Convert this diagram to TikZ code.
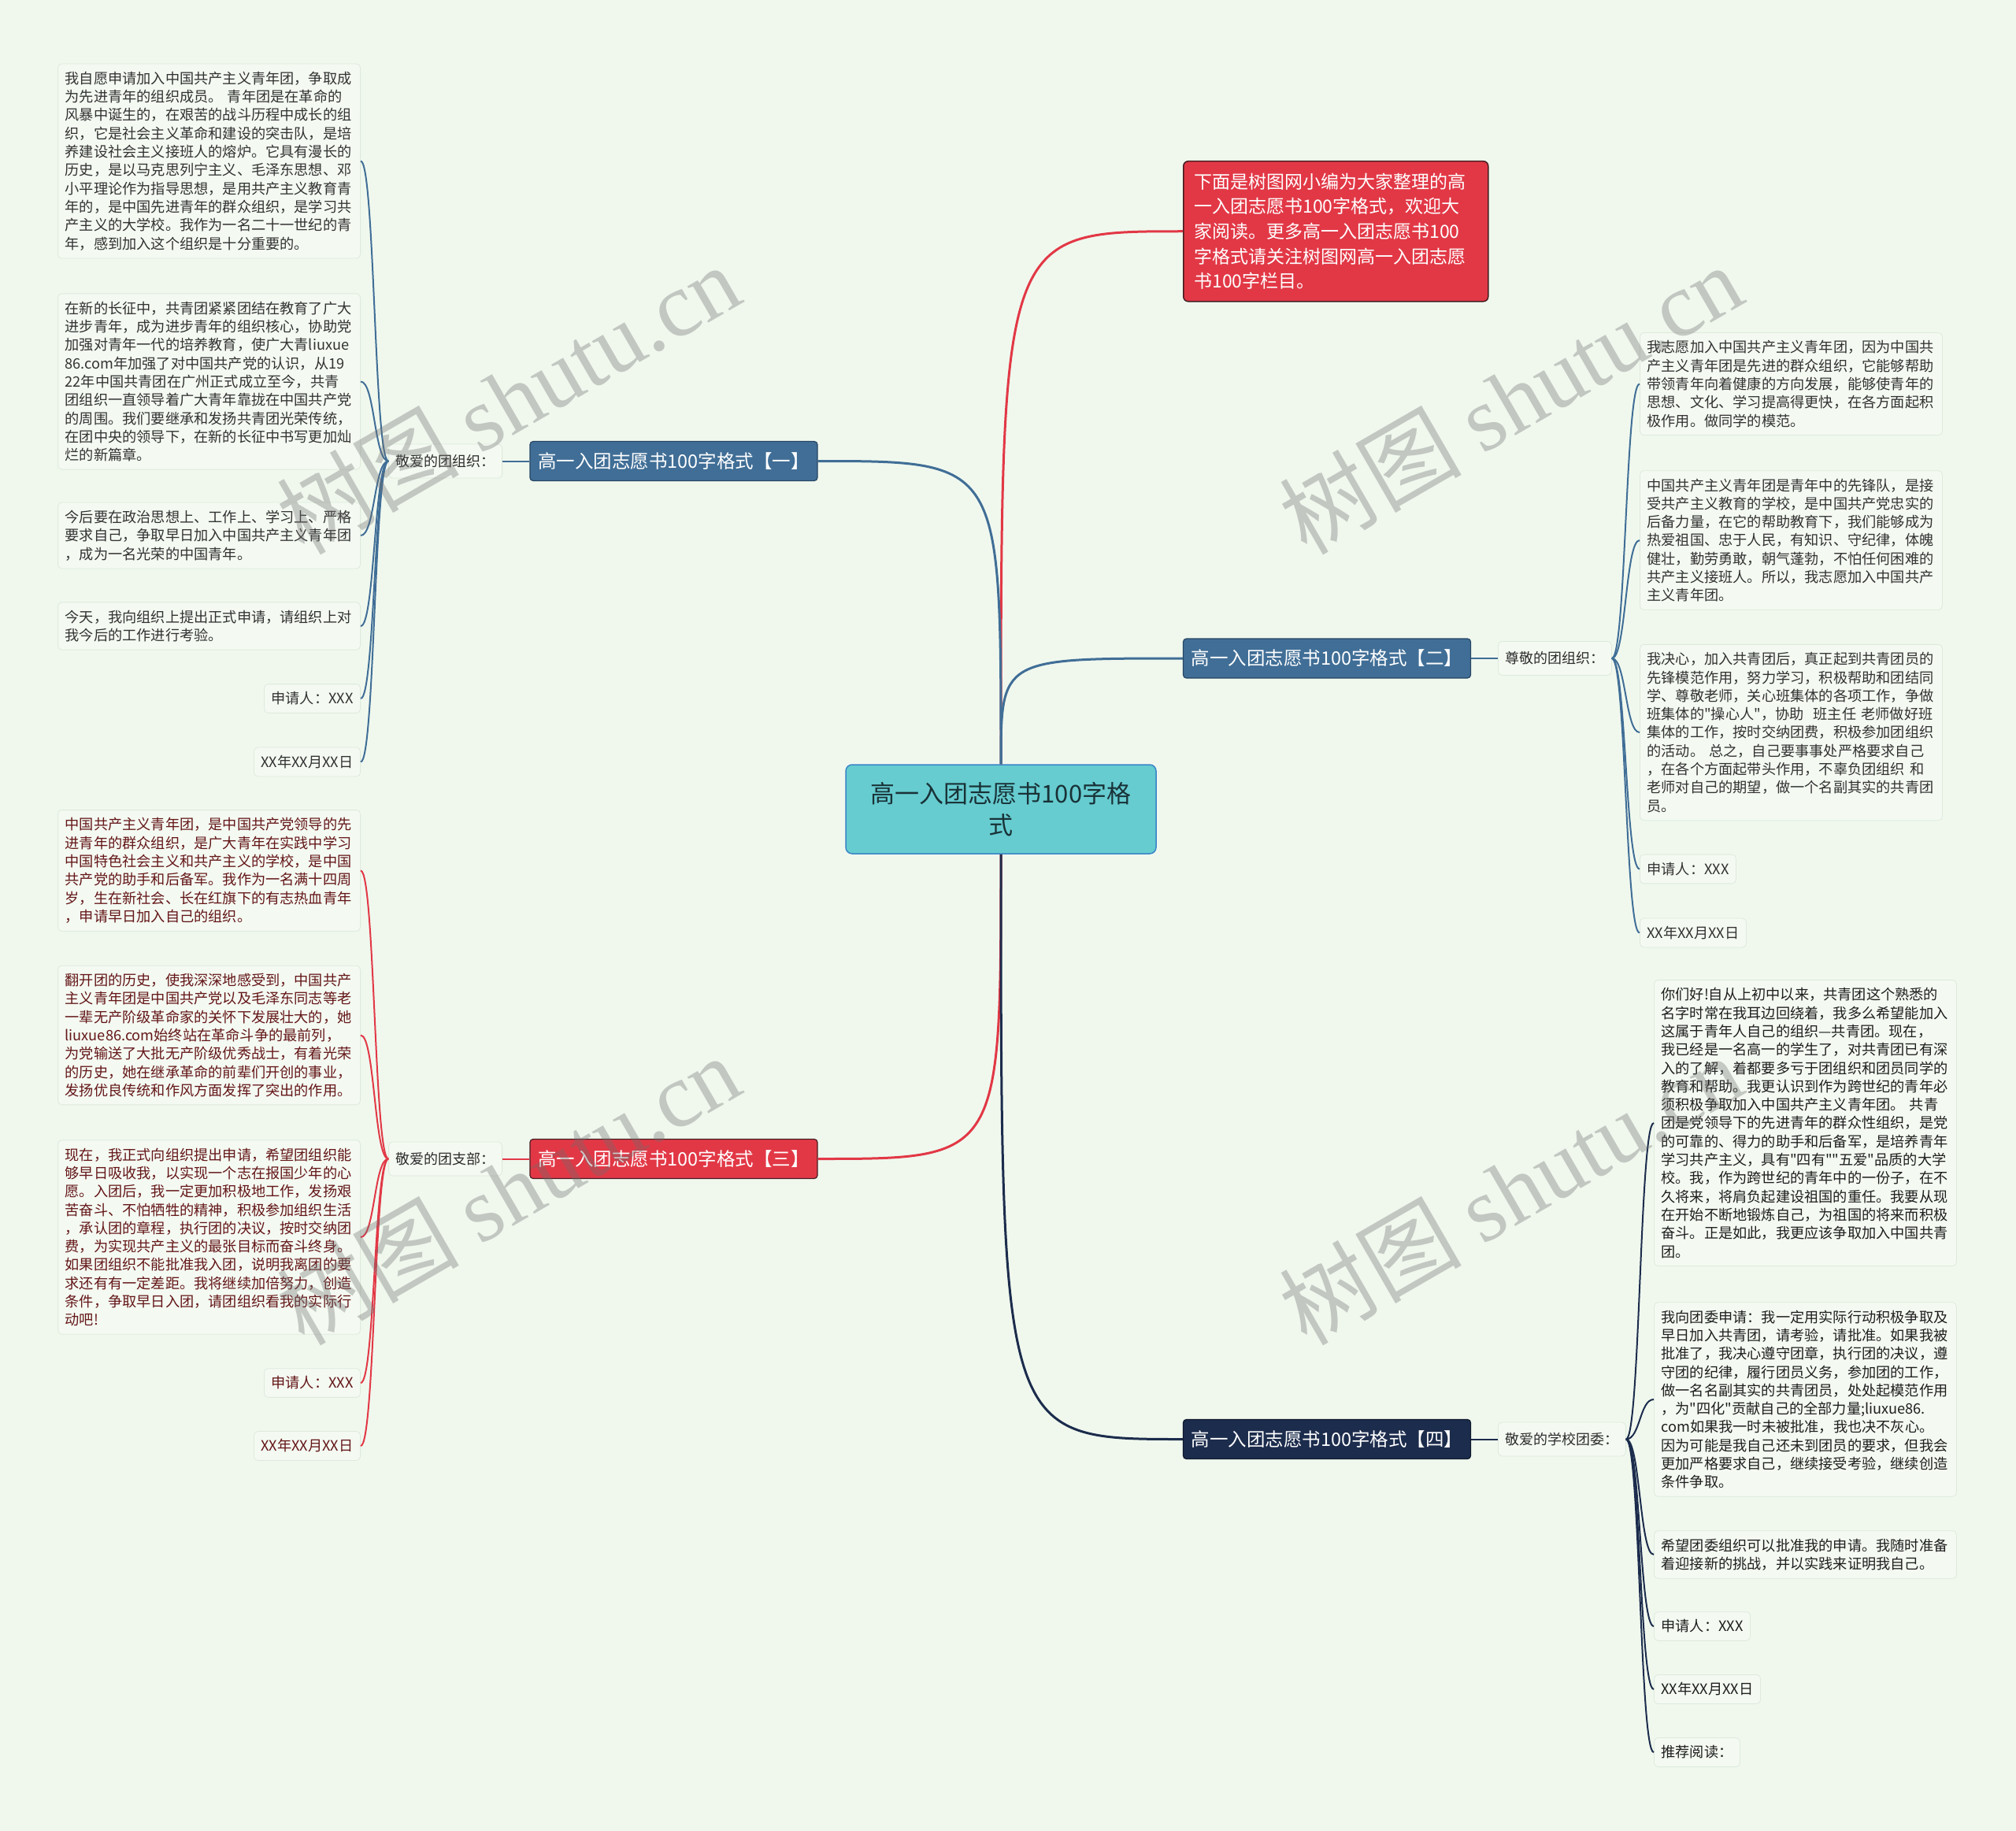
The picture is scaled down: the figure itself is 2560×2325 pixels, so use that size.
\documentclass[tikz,border=0pt]{standalone}
\usepackage{fontspec}
\setmainfont{Noto Sans CJK SC}[Ligatures=TeXOff]
\newfontfamily\wmserif{Liberation Serif}[Ligatures=TeXOff]
\usetikzlibrary{calc}
\definecolor{bg}{RGB}{240,248,238}
\definecolor{boxfill}{RGB}{244,250,242}
\definecolor{boxline}{RGB}{222,233,220}
\definecolor{cblue}{RGB}{64,110,150}
\definecolor{cblueb}{RGB}{40,70,100}
\definecolor{cred}{RGB}{226,56,70}
\definecolor{credb}{RGB}{70,30,34}
\definecolor{cnavy}{RGB}{28,44,76}
\definecolor{cnavyb}{RGB}{15,25,45}
\definecolor{cteal}{RGB}{102,204,208}
\definecolor{ctealb}{RGB}{58,132,200}
\definecolor{txtdark}{RGB}{50,50,50}
\definecolor{txtred}{RGB}{100,22,24}
\definecolor{txtblack}{RGB}{30,30,30}
\definecolor{labtext}{RGB}{45,45,45}
\definecolor{wmgray}{RGB}{110,110,110}
\definecolor{ctext}{RGB}{25,50,55}
\tikzset{
  bx/.style={draw=boxline, fill=boxfill, rounded corners=5pt, line width=0.8pt,
    inner xsep=9pt, inner ysep=10pt, align=left,
    font=\fontsize{18.2}{23.3}\selectfont, text=txtdark},
  bxw/.style={bx, text width=366pt},
  lab/.style={draw=boxline, fill=boxfill, rounded corners=5pt, line width=0.8pt,
    inner xsep=9pt, inner ysep=0pt, minimum height=43pt,
    font=\fontsize{18}{21}\selectfont, text=labtext},
  branch/.style={rounded corners=4pt, minimum width=365pt, minimum height=50pt,
    inner sep=0pt, text=white, font=\fontsize{23.5}{28}\selectfont, line width=1.2pt},
  mainedge/.style={line width=3pt},
  subedge/.style={line width=2pt},
  wm/.style={rotate=30, text=wmgray, text opacity=0.35, font=\fontsize{116}{120}\selectfont, inner sep=0pt}
}
\begin{document}
\begin{tikzpicture}[x=1pt,y=-1pt]
\useasboundingbox (0,0) rectangle (2560,2325);
\fill[bg] (0,0) rectangle (2560,2325);

% center
\node[draw=ctealb, fill=cteal, rounded corners=8pt, line width=1.5pt, minimum width=394pt,
  minimum height=113pt, align=center, text=ctext,
  font=\fontsize{31}{40}\selectfont] (c) at (1271,1027.5) {高一入团志愿书100字格\\式};

% top red node
\node[draw=credb, fill=cred, rounded corners=6pt, line width=1.5pt, anchor=north west,
  text width=360pt, inner xsep=13.5pt, inner ysep=0pt, minimum height=178pt, align=left,
  text=white, font=\fontsize{23}{31.7}\selectfont] (top) at (1502,204)
  {下面是树图网小编为大家整理的高\\一入团志愿书100字格式，欢迎大\\家阅读。更多高一入团志愿书100\\字格式请关注树图网高一入团志愿\\书100字栏目。};

% branch nodes
\node[branch, fill=cblue, draw=cblueb] (n1) at (855.5,585.5) {高一入团志愿书100字格式【一】};
\node[branch, fill=cblue, draw=cblueb] (n2) at (1685,836) {高一入团志愿书100字格式【二】};
\node[branch, fill=cred, draw=credb] (n3) at (855.5,1471.5) {高一入团志愿书100字格式【三】};
\node[branch, fill=cnavy, draw=cnavyb] (n4) at (1685,1827.5) {高一入团志愿书100字格式【四】};

% labels
\node[lab, anchor=east] (l1) at (638,585.5) {敬爱的团组织：};
\node[lab, anchor=west] (l2) at (1902,836) {尊敬的团组织：};
\node[lab, anchor=east] (l3) at (638,1471.5) {敬爱的团支部：};
\node[lab, anchor=west] (l4) at (1902,1827.5) {敬爱的学校团委：};

% branch 1 boxes
\node[bxw, anchor=east] (a1) at (458,204.5) {我自愿申请加入中国共产主义青年团，争取成\\为先进青年的组织成员。 青年团是在革命的\\风暴中诞生的，在艰苦的战斗历程中成长的组\\织，它是社会主义革命和建设的突击队，是培\\养建设社会主义接班人的熔炉。它具有漫长的\\历史，是以马克思列宁主义、毛泽东思想、邓\\小平理论作为指导思想，是用共产主义教育青\\年的，是中国先进青年的群众组织，是学习共\\产主义的大学校。我作为一名二十一世纪的青\\年，感到加入这个组织是十分重要的。};
\node[bxw, anchor=east] (a2) at (458,484.5) {在新的长征中，共青团紧紧团结在教育了广大\\进步青年，成为进步青年的组织核心，协助党\\加强对青年一代的培养教育，使广大青liuxue\\86.com年加强了对中国共产党的认识，从19\\22年中国共青团在广州正式成立至今，共青\\团组织一直领导着广大青年靠拢在中国共产党\\的周围。我们要继承和发扬共青团光荣传统，\\在团中央的领导下，在新的长征中书写更加灿\\烂的新篇章。};
\node[bxw, anchor=east] (a3) at (458,680) {今后要在政治思想上、工作上、学习上、严格\\要求自己，争取早日加入中国共产主义青年团\\，成为一名光荣的中国青年。};
\node[bxw, anchor=east] (a4) at (458,795) {今天，我向组织上提出正式申请，请组织上对\\我今后的工作进行考验。};
\node[bx, anchor=east] (a5) at (458,887) {申请人：XXX};
\node[bx, anchor=east] (a6) at (458,967.5) {XX年XX月XX日};

% branch 3 boxes
\node[bxw, anchor=east, text=txtred] (b1) at (458,1105.5) {中国共产主义青年团，是中国共产党领导的先\\进青年的群众组织，是广大青年在实践中学习\\中国特色社会主义和共产主义的学校，是中国\\共产党的助手和后备军。我作为一名满十四周\\岁，生在新社会、长在红旗下的有志热血青年\\，申请早日加入自己的组织。};
\node[bxw, anchor=east, text=txtred] (b2) at (458,1314.5) {翻开团的历史，使我深深地感受到，中国共产\\主义青年团是中国共产党以及毛泽东同志等老\\一辈无产阶级革命家的关怀下发展壮大的，她\\liuxue86.com始终站在革命斗争的最前列，\\为党输送了大批无产阶级优秀战士，有着光荣\\的历史，她在继承革命的前辈们开创的事业，\\发扬优良传统和作风方面发挥了突出的作用。};
\node[bxw, anchor=east, text=txtred] (b3) at (458,1571) {现在，我正式向组织提出申请，希望团组织能\\够早日吸收我，以实现一个志在报国少年的心\\愿。入团后，我一定更加积极地工作，发扬艰\\苦奋斗、不怕牺牲的精神，积极参加组织生活\\，承认团的章程，执行团的决议，按时交纳团\\费，为实现共产主义的最张目标而奋斗终身。\\如果团组织不能批准我入团，说明我离团的要\\求还有有一定差距。我将继续加倍努力，创造\\条件，争取早日入团，请团组织看我的实际行\\动吧!};
\node[bx, anchor=east, text=txtred] (b4) at (458,1756) {申请人：XXX};
\node[bx, anchor=east, text=txtred] (b5) at (458,1836) {XX年XX月XX日};

% branch 2 boxes
\node[bxw, anchor=west] (r1) at (2082,487.5) {我志愿加入中国共产主义青年团，因为中国共\\产主义青年团是先进的群众组织，它能够帮助\\带领青年向着健康的方向发展，能够使青年的\\思想、文化、学习提高得更快，在各方面起积\\极作用。做同学的模范。};
\node[bxw, anchor=west] (r2) at (2082,686) {中国共产主义青年团是青年中的先锋队，是接\\受共产主义教育的学校，是中国共产党忠实的\\后备力量，在它的帮助教育下，我们能够成为\\热爱祖国、忠于人民，有知识、守纪律，体魄\\健壮，勤劳勇敢，朝气蓬勃，不怕任何困难的\\共产主义接班人。所以，我志愿加入中国共产\\主义青年团。};
\node[bxw, anchor=west] (r3) at (2082,930) {我决心，加入共青团后，真正起到共青团员的\\先锋模范作用，努力学习，积极帮助和团结同\\学、尊敬老师，关心班集体的各项工作，争做\\班集体的"操心人"，协助\ \ 班主任 老师做好班\\集体的工作，按时交纳团费，积极参加团组织\\的活动。 总之，自己要事事处严格要求自己\\，在各个方面起带头作用，不辜负团组织 和\\老师对自己的期望，做一个名副其实的共青团\\员。};
\node[bx, anchor=west] (r4) at (2082,1103.5) {申请人：XXX};
\node[bx, anchor=west] (r5) at (2082,1184.5) {XX年XX月XX日};

% branch 4 boxes
\node[bxw, anchor=west, text=txtblack] (d1) at (2100,1426) {你们好!自从上初中以来，共青团这个熟悉的\\名字时常在我耳边回绕着，我多么希望能加入\\这属于青年人自己的组织—共青团。现在，\\我已经是一名高一的学生了，对共青团已有深\\入的了解，着都要多亏于团组织和团员同学的\\教育和帮助。我更认识到作为跨世纪的青年必\\须积极争取加入中国共产主义青年团。 共青\\团是党领导下的先进青年的群众性组织，是党\\的可靠的、得力的助手和后备军，是培养青年\\学习共产主义，具有"四有""五爱"品质的大学\\校。我，作为跨世纪的青年中的一份子，在不\\久将来，将肩负起建设祖国的重任。我要从现\\在开始不断地锻炼自己，为祖国的将来而积极\\奋斗。正是如此，我更应该争取加入中国共青\\团。};
\node[bxw, anchor=west, text=txtblack] (d2) at (2100,1777) {我向团委申请：我一定用实际行动积极争取及\\早日加入共青团，请考验，请批准。如果我被\\批准了，我决心遵守团章，执行团的决议，遵\\守团的纪律，履行团员义务，参加团的工作，\\做一名名副其实的共青团员，处处起模范作用\\，为"四化"贡献自己的全部力量;liuxue86.\\com如果我一时未被批准，我也决不灰心。\\因为可能是我自己还未到团员的要求，但我会\\更加严格要求自己，继续接受考验，继续创造\\条件争取。};
\node[bxw, anchor=west, text=txtblack] (d3) at (2100,1974) {希望团委组织可以批准我的申请。我随时准备\\着迎接新的挑战，并以实践来证明我自己。};
\node[bx, anchor=west, text=txtblack] (d4) at (2100,2065) {申请人：XXX};
\node[bx, anchor=west, text=txtblack] (d5) at (2100,2145) {XX年XX月XX日};
\node[bx, anchor=west, text=txtblack] (d6) at (2100,2225) {推荐阅读：};

% main edges
\draw[mainedge, cred] (c.north) .. controls (c.north |- top.west) and (c.north |- top.west) .. (top.west);
\draw[mainedge, cblue] (c.north) .. controls (c.north |- n1.east) and (c.north |- n1.east) .. (n1.east);
\draw[mainedge, cblue] (c.north) .. controls (c.north |- n2.west) and (c.north |- n2.west) .. (n2.west);
\draw[mainedge, cred] (c.south) .. controls (c.south |- n3.east) and (c.south |- n3.east) .. (n3.east);
\draw[mainedge, cnavy] (c.south) .. controls (c.south |- n4.west) and (c.south |- n4.west) .. (n4.west);

% branch to label
\draw[subedge, cblue] (n1.west) -- (l1.east);
\draw[subedge, cblue] (n2.east) -- (l2.west);
\draw[subedge, cred] (n3.west) -- (l3.east);
\draw[subedge, cnavy] (n4.east) -- (l4.west);

% label to children
\foreach \b in {a1,a2,a3,a4,a5,a6}
  \draw[subedge, cblue] (l1.west) .. controls +(-18,0) and +(18,0) .. (\b.east);
\foreach \b in {b1,b2,b3,b4,b5}
  \draw[subedge, cred] (l3.west) .. controls +(-18,0) and +(18,0) .. (\b.east);
\foreach \b in {r1,r2,r3,r4,r5}
  \draw[subedge, cblue] (l2.east) .. controls +(18,0) and +(-18,0) .. (\b.west);
\foreach \b in {d1,d2,d3,d4,d5,d6}
  \draw[subedge, cnavy] (l4.east) .. controls +(18,0) and +(-18,0) .. (\b.west);

% watermarks
\node[wm] (w1) at (645,506) {树图 {\wmserif shutu.cn}};
\node[wm] (w2) at (1918,506) {树图 {\wmserif shutu.cn}};
\node[wm] (w3) at (645,1510) {树图 {\wmserif shutu.cn}};
\node[wm] (w4) at (1918,1510) {树图 {\wmserif shutu.cn}};
\end{tikzpicture}
\end{document}
